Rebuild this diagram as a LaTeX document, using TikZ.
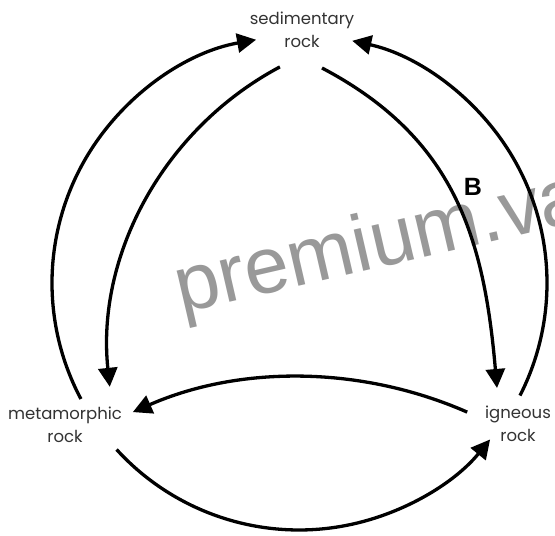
\documentclass[tikz,border=0pt]{standalone}
\usepackage{fontspec}
\setmainfont{Poppins}
\newfontfamily\wmfont{Liberation Sans}
\newfontfamily\bfont{Liberation Sans}
\usetikzlibrary{arrows.meta,calc}
\begin{document}
\begin{tikzpicture}[x=1pt,y=1pt,
  lbl/.style={align=center,text=black!80,inner sep=0pt,font=\fontsize{16.5}{23.5}\selectfont},
  conn/.style={line width=3.3pt,-{Triangle[length=19pt,width=19pt]}},
  wm/.style={anchor=base west,rotate=13,text=black!40,inner sep=0pt,font=\wmfont\fontsize{80}{80}\selectfont}]
\clip (0,0) rectangle (555,536);
\fill[white] (0,0) rectangle (555,536);
\node[wm] (wmark) at (181,222) {premium.va};
\node[lbl] (sed) at (302,506) {sedimentary\\rock};
\node[lbl] (met) at (65,111) {metamorphic\\rock};
\node[lbl] (ign) at (518,112) {igneous\\rock};
\node[inner sep=0pt,font=\bfont\bfseries\fontsize{25}{25}\selectfont] (B) at (473,349) {B};
\coordinate (O) at (299,253);
\coordinate (CL) at (432,183);
\coordinate (CM) at (300,-257);
\coordinate (metOut) at ($(O)+(208:247)$);
\coordinate (ignOut) at ($(O)+(-27:248)$);
\coordinate (metBot) at ($(O)+(222.4:247)$);
\coordinate (sedInL) at ($(CL)+(118:324)$);
\coordinate (sedInR) at (322,468);
\coordinate (ignTop) at (497,148);
\coordinate (ignMid) at ($(CM)+(66.3:416)$);
% outer arcs
\draw[conn] (metOut) arc[start angle=208,end angle=100,radius=247pt];
\draw[conn] (ignOut) arc[start angle=-27,end angle=77.6,radius=248pt];
\draw[conn] (metBot) arc[start angle=222.4,end angle=320.7,radius=247pt];
% inner arcs
\draw[conn] (sedInL) arc[start angle=118,end angle=186,radius=324pt];
\draw[conn] (sedInR) .. controls (455,398) and (484,298) .. (ignTop);
% middle
\draw[conn] (ignMid) arc[start angle=66.3,end angle=113.7,radius=416pt];
\end{tikzpicture}
\end{document}
